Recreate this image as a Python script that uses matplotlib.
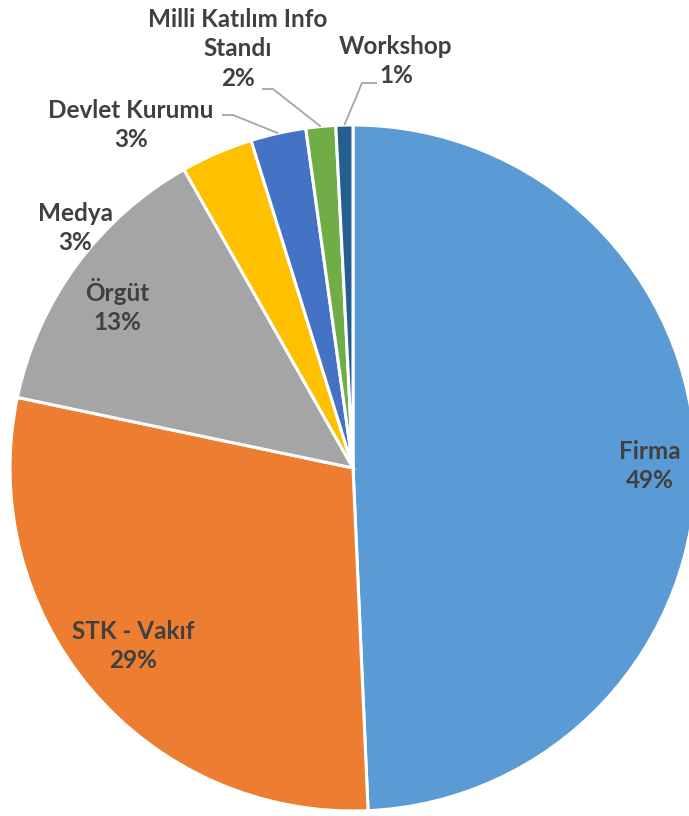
import numpy as np
import matplotlib.pyplot as plt

# slice sizes, labels as printed
names = ["Firma", "STK - Vakıf", "Örgüt", "Medya", "Devlet Kurumu",
         "Milli Katılım Info\nStandı", "Workshop"]
shares = [49.3, 29.0, 13.5, 3.4, 2.6, 1.4, 0.8]
pct_text = ["49%", "29%", "13%", "3%", "3%", "2%", "1%"]
colors = ["#5B9BD5", "#ED7D31", "#A5A5A5", "#FFC000", "#4472C4", "#70AD47", "#255E91"]

W, H = 689, 816
fig = plt.figure(figsize=(W / 100, H / 100), dpi=100)
ax = fig.add_axes([0, 0, 1, 1])

cx, cy, R = 353, H - 468, 343
wedges, _ = ax.pie(shares, colors=colors, startangle=90, counterclock=False,
                   center=(cx, cy), radius=R, frame=True,
                   wedgeprops=dict(edgecolor="white", linewidth=2.2))
ax.set_xlim(0, W)
ax.set_ylim(0, H)
ax.set_aspect("equal")
ax.axis("off")

txt = dict(ha="center", va="center", fontsize=17.5, fontweight="bold",
           color="#404040", family=["Lato", "DejaVu Sans"], linespacing=1.35)

# label anchor points (pixels from top-left)
label_pos = [(650, 466), (133, 646), (117, 306), (75, 228), (131, 125),
             (238, 49), (396, 61)]
for i, (px, py) in enumerate(label_pos):
    ax.text(px, H - py, names[i] + "\n" + pct_text[i], **txt)

# leader lines for the small outer labels
leaders = {4: (222, 233, 115), 5: (262, 273, 89), 6: (377, 362, 83)}
for i, (x0, x1, py) in leaders.items():
    w = wedges[i]
    mid = np.deg2rad((w.theta1 + w.theta2) / 2)
    ex, ey = cx + R * np.cos(mid), cy + R * np.sin(mid)
    ax.plot([x0, x1, ex], [H - py, H - py, ey], color="#A6A6A6", lw=1.3,
            solid_capstyle="butt")

fig.savefig("out.png", dpi=100, facecolor="white")
